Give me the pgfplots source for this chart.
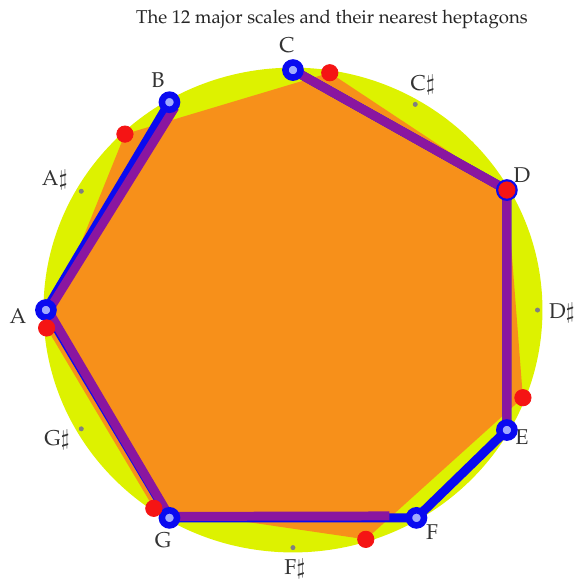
\documentclass[border=0pt]{standalone}
\usepackage[T1]{fontenc}
\usepackage{mathpazo}
\usepackage{pgfplots}
\pgfplotsset{compat=1.18}
\definecolor{ygreen}{RGB}{221,242,0}
\definecolor{horange}{RGB}{247,144,26}
\definecolor{spurple}{RGB}{138,22,160}
\definecolor{sblue}{RGB}{10,10,240}
\definecolor{hred}{RGB}{245,20,20}
\definecolor{lblue}{RGB}{160,170,255}
\begin{document}
\begin{tikzpicture}
\begin{axis}[scale only axis, width=10cm, height=10cm,
  xmin=-1.186, xmax=1.166, ymin=-1.129, ymax=1.292,
  hide axis, clip=false]
% circle of the 12 pitch classes
\fill[ygreen] (axis cs:0,0) ellipse [x radius=1.01, y radius=1.01];
% nearest regular heptagon
\addplot[fill=horange, draw=none] coordinates {
  (0.8660,0.5000) (0.9309,-0.3653) (0.2948,-0.9556) (-0.5633,-0.8262)
  (-0.9972,-0.0747) (-0.6802,0.7331) (0.1490,0.9888) (0.8660,0.5000)};
% sharps (small gray dots)
\addplot[only marks, mark=*, mark size=1pt, color=gray] coordinates {
  (0.495,0.857) (0.99,0) (0,-0.99) (-0.857,-0.495) (-0.857,0.495)};
% C major scale
\addplot[sblue, line width=4.4pt, line join=round] coordinates {
  (0,1) (0.866,0.5) (0.866,-0.5) (0.5,-0.866) (-0.5,-0.866) (-1,0) (-0.5,0.866)};
\addplot[spurple, line width=4.4pt, line join=round] coordinates {
  (0,1) (0.866,0.5) (0.866,-0.49)};
\addplot[spurple, line width=4.4pt, line join=round] coordinates {
  (0.39,-0.858) (-0.5,-0.860) (-0.99,-0.004) (-0.478,0.845)};
\addplot[only marks, mark=*, mark size=3.7pt,
  mark options={draw=sblue, line width=3.2pt, fill=lblue}] coordinates {
  (0,1) (0.866,0.5) (0.866,-0.5) (0.5,-0.866) (-0.5,-0.866) (-1,0) (-0.5,0.866)};
\addplot[only marks, color=hred, mark=*, mark size=4pt, mark options={draw=hred, fill=hred}] coordinates {
  (0.8660,0.5000) (0.9309,-0.3653) (0.2948,-0.9556) (-0.5633,-0.8262)
  (-0.9972,-0.0747) (-0.6802,0.7331) (0.1490,0.9888)};
% labels
\node[font=\fontsize{9.1}{11}\selectfont, text=black!85] at (axis cs:0.158,1.213) {The 12 major scales and their nearest heptagons};
\begin{scope}[every node/.style={font=\fontsize{10.5}{12}\selectfont, text=black!80}]
\node at (axis cs:-0.024,1.104) {C};
\node at (axis cs:0.526,0.9375) {C$\sharp$};
\node at (axis cs:0.927,0.5625) {D};
\node at (axis cs:1.089,-0.0125) {D$\sharp$};
\node at (axis cs:0.927,-0.529) {E};
\node at (axis cs:0.563,-0.925) {F};
\node at (axis cs:0.008,-1.078) {F$\sharp$};
\node at (axis cs:-0.526,-0.958) {G};
\node at (axis cs:-0.955,-0.542) {G$\sharp$};
\node at (axis cs:-1.113,-0.025) {A};
\node at (axis cs:-0.964,0.542) {A$\sharp$};
\node at (axis cs:-0.547,0.958) {B};
\end{scope}
\end{axis}
\pgfresetboundingbox
\useasboundingbox (current axis.south west) rectangle (current axis.north east);
\end{tikzpicture}
\end{document}
